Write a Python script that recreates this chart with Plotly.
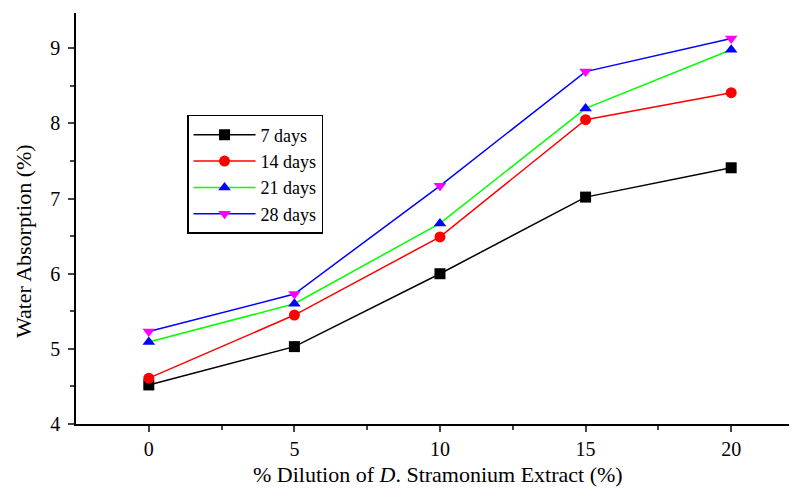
import plotly.graph_objects as go

dilution = [0, 5, 10, 15, 20]
days7 = [4.52, 5.03, 6.00, 7.02, 7.41]
days14 = [4.61, 5.45, 6.49, 8.05, 8.41]
days21 = [5.09, 5.60, 6.67, 8.20, 8.98]
days28 = [5.23, 5.73, 7.17, 8.69, 9.13]

series = [
    ("7 days", days7, "black", "black", "square"),
    ("14 days", days14, "red", "red", "circle"),
    ("21 days", days21, "#00ff00", "blue", "triangle-up"),
    ("28 days", days28, "blue", "magenta", "triangle-down"),
]

fig = go.Figure()
for name, vals, lc, mc, sym in series:
    fig.add_trace(go.Scatter(
        x=dilution, y=vals, name=name, mode="lines+markers",
        line=dict(color=lc, width=1.5),
        marker=dict(color=mc, symbol=sym, size=11),
    ))

font = "Liberation Serif, Times New Roman, serif"
fig.update_layout(
    width=789, height=482,
    margin=dict(l=68, r=0, t=5, b=66),
    plot_bgcolor="white", paper_bgcolor="white",
    font=dict(family=font, size=18, color="black"),
    showlegend=True,
    legend=dict(x=0.154, y=0.752, xanchor="left", yanchor="top",
                bordercolor="black", borderwidth=1.5,
                font=dict(family=font, size=18), bgcolor="white",
                tracegroupgap=0, itemwidth=62),
    xaxis=dict(range=[-2.5, 22.26], tickvals=dilution, ticks="outside",
               ticklen=6, tickwidth=1.5, showline=True, linecolor="black",
               linewidth=1.5, showgrid=False, zeroline=False, automargin=False,
               tickfont=dict(family=font, size=20),
               minor=dict(tickvals=[2.5, 7.5, 12.5, 17.5, 22.5], ticks="outside", ticklen=4, tickwidth=1.5)),
    yaxis=dict(range=[4, 9.47], tickvals=[4, 5, 6, 7, 8, 9], ticks="outside",
               ticklen=6, tickwidth=1.5, showline=True, linecolor="black",
               linewidth=1.5, showgrid=False, zeroline=False, automargin=False,
               tickfont=dict(family=font, size=20), ticklabelstandoff=4,
               minor=dict(tickvals=[4.5, 5.5, 6.5, 7.5, 8.5], ticks="outside", ticklen=4, tickwidth=1.5)),
    annotations=[
        dict(text="% Dilution of <i>D</i>. Stramonium Extract (%)", xref="paper", yref="paper",
             x=0.502, y=-0.124, xanchor="center", yanchor="middle", showarrow=False,
             font=dict(family=font, size=22)),
        dict(text="Water Absorption (%)", xref="paper", yref="paper", textangle=-90,
             x=-0.0735, y=0.445, xanchor="center", yanchor="middle", showarrow=False,
             font=dict(family=font, size=22)),
    ],
)
fig.write_html("out.html")
